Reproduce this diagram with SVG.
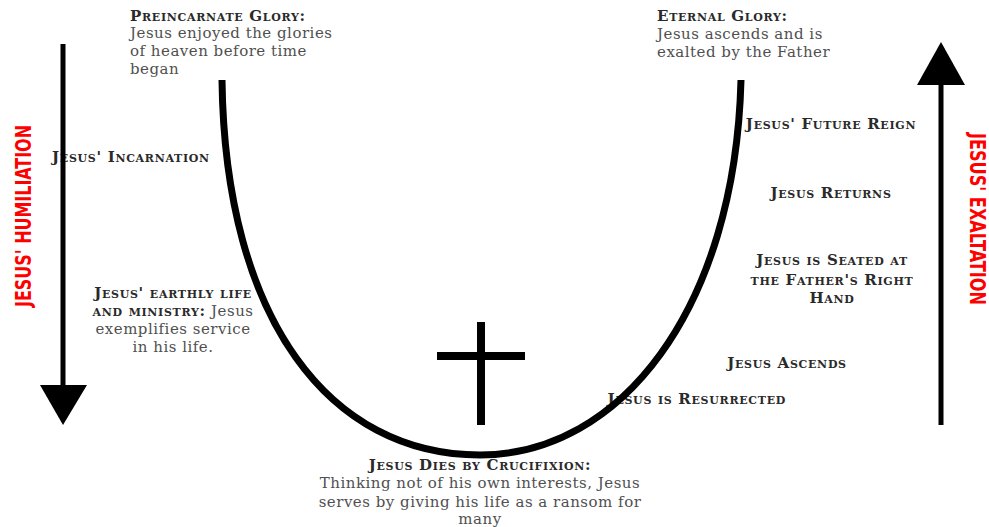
<svg xmlns="http://www.w3.org/2000/svg" width="989" height="527" viewBox="0 0 989 527">
<style>
.h{font-family:"DejaVu Serif","Liberation Serif",serif;font-weight:bold;font-variant:small-caps;font-size:15px;letter-spacing:0.7px;fill:#2a2a2a}
.b{font-family:"DejaVu Serif","Liberation Serif",serif;font-size:15px;letter-spacing:0.5px;fill:#505050}
.r{font-family:"Liberation Sans Narrow","DejaVu Sans Condensed","Liberation Sans",sans-serif;font-weight:bold;font-size:21px;fill:#ff0000}
.ln{stroke:#000;fill:none}
</style>
<rect width="989" height="527" fill="#fff"/>
<g id="labels-left">
  <text class="r" transform="translate(31,216) rotate(-90)" text-anchor="middle" textLength="182" lengthAdjust="spacingAndGlyphs">JESUS' HUMILIATION</text>
</g>
<g id="labels-right">
  <text class="r" transform="translate(970,219) rotate(90)" text-anchor="middle" textLength="172" lengthAdjust="spacingAndGlyphs">JESUS' EXALTATION</text>
</g>
<g id="node-preincarnate">
  <text class="h" x="130" y="21">Preincarnate Glory:</text>
  <text class="b" x="130" y="38">Jesus enjoyed the glories</text>
  <text class="b" x="130" y="56">of heaven before time</text>
  <text class="b" x="130" y="74">began</text>
</g>
<g id="node-eternal">
  <text class="h" x="657" y="21">Eternal Glory:</text>
  <text class="b" x="657" y="39">Jesus ascends and is</text>
  <text class="b" x="657" y="57">exalted by the Father</text>
</g>
<g id="node-incarnation">
  <text class="h" x="52" y="162">Jesus' Incarnation</text>
</g>
<g id="node-earthly">
  <text class="h" x="173" y="298" text-anchor="middle">Jesus' earthly life</text>
  <text x="173" y="316" text-anchor="middle"><tspan class="h">and ministry:</tspan><tspan class="b"> Jesus</tspan></text>
  <text class="b" x="173" y="334" text-anchor="middle">exemplifies service</text>
  <text class="b" x="173" y="352" text-anchor="middle">in his life.</text>
</g>
<g id="node-crucifixion">
  <text class="h" x="480" y="470" text-anchor="middle">Jesus Dies by Crucifixion:</text>
  <text class="b" x="480" y="488" text-anchor="middle">Thinking not of his own interests, Jesus</text>
  <text class="b" x="480" y="507" text-anchor="middle">serves by giving his life as a ransom for</text>
  <text class="b" x="480" y="524" text-anchor="middle">many</text>
</g>
<g id="node-resurrected">
  <text class="h" x="786" y="404" text-anchor="end">Jesus is Resurrected</text>
</g>
<g id="node-ascends">
  <text class="h" x="787" y="368" text-anchor="middle">Jesus Ascends</text>
</g>
<g id="node-seated">
  <text class="h" x="832" y="265" text-anchor="middle">Jesus is Seated at</text>
  <text class="h" x="832" y="285" text-anchor="middle">the Father's Right</text>
  <text class="h" x="832" y="303" text-anchor="middle">Hand</text>
</g>
<g id="node-returns">
  <text class="h" x="831" y="198" text-anchor="middle">Jesus Returns</text>
</g>
<g id="node-reign">
  <text class="h" x="831" y="129" text-anchor="middle">Jesus' Future Reign</text>
</g>
<g id="connectors">
  <path class="ln" stroke-width="7" d="M222,80 C225,320 330,455 480,455 C620,455 735,310 741,80"/>
  <line class="ln" x1="63" y1="44" x2="63" y2="388" stroke-width="5"/>
  <polygon points="40,385 87,385 63,425" fill="#000"/>
  <line class="ln" x1="941" y1="425" x2="941" y2="82" stroke-width="5"/>
  <polygon points="917,85 965,85 941,42" fill="#000"/>
</g>
<g id="cross">
  <rect x="477" y="322" width="8" height="103" fill="#000"/>
  <rect x="437" y="352" width="88" height="8" fill="#000"/>
</g>
</svg>
